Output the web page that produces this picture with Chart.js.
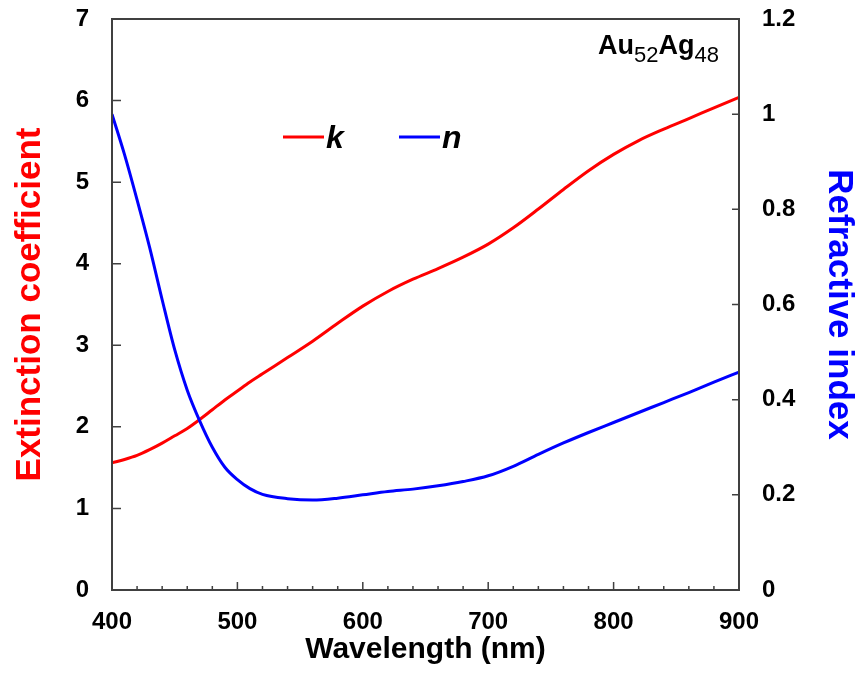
<!DOCTYPE html>
<html>
<head>
<meta charset="utf-8">
<script src="https://cdn.jsdelivr.net/npm/chart.js@4"></script>
<style>
  html, body { margin: 0; padding: 0; background: #fff; }
  #chart { display: block; }
</style>
</head>
<body>
<canvas id="chart" width="860" height="680"></canvas>
<script>
  "use strict";

  // Datos (Au52Ag48)
  const wavelengths = [400, 410, 420, 430, 440, 450, 460, 470, 480, 490, 500, 510, 520, 540, 560, 580,
    600, 620, 640, 660, 680, 700, 720, 740, 760, 780, 800, 820, 840, 860, 880, 900];
  const kValues = [1.56, 1.60, 1.65, 1.72, 1.80, 1.89, 1.98, 2.09, 2.21, 2.33, 2.44, 2.55, 2.65, 2.85, 3.05, 3.27,
    3.48, 3.66, 3.81, 3.94, 4.08, 4.24, 4.44, 4.67, 4.91, 5.14, 5.34, 5.51, 5.65, 5.78, 5.91, 6.04];
  const nValues = [1.00, 0.915, 0.82, 0.72, 0.61, 0.505, 0.42, 0.355, 0.30, 0.258, 0.232, 0.213, 0.201, 0.192,
    0.189, 0.193, 0.200, 0.207, 0.212, 0.219, 0.228, 0.240, 0.260, 0.285, 0.309, 0.331, 0.352, 0.373, 0.394,
    0.415, 0.437, 0.458];

  const xTicks = [400, 500, 600, 700, 800, 900];
  const xMinorTicks = [420, 440, 460, 480, 520, 540, 560, 580, 620, 640, 660, 680, 720, 740, 760, 780,
    820, 840, 860, 880];
  const kTicks = [0, 1, 2, 3, 4, 5, 6, 7];
  const nTicks = [0, 0.2, 0.4, 0.6, 0.8, 1, 1.2];

  const RED = "#ff0000";
  const BLUE = "#0000ff";
  const FRAME = "#404040";
  const FONT = "'Liberation Sans', Arial, sans-serif";

  const toPoints = (ys) => wavelengths.map((w, i) => ({x: w, y: ys[i]}));
  const setTicks = (list) => (scale) => {
    scale.ticks = list.map((v) => ({value: v}));
  };
  // tamaño fijo de cada eje, sin el relleno extra que Chart.js añade por las etiquetas
  const fixSize = (prop, px) => (scale) => {
    scale[prop] = px;
    scale.paddingTop = 0;
    scale.paddingBottom = 0;
    scale.paddingLeft = 0;
    scale.paddingRight = 0;
  };

  // Marco, marcas hacia dentro, leyenda y etiqueta de la muestra
  const decorations = {
    id: "decorations",
    afterDatasetsDraw(chart) {
      const {ctx, chartArea: a, scales} = chart;
      ctx.save();
      ctx.strokeStyle = FRAME;
      ctx.lineWidth = 1.5;
      ctx.beginPath();
      xTicks.forEach((v) => {
        const px = scales.x.getPixelForValue(v);
        ctx.moveTo(px, a.bottom);
        ctx.lineTo(px, a.bottom - 8);
      });
      xMinorTicks.forEach((v) => {
        const px = scales.x.getPixelForValue(v);
        ctx.moveTo(px, a.bottom);
        ctx.lineTo(px, a.bottom - 4);
      });
      kTicks.forEach((v) => {
        const py = scales.y.getPixelForValue(v);
        ctx.moveTo(a.left, py);
        ctx.lineTo(a.left + 9, py);
      });
      nTicks.forEach((v) => {
        const py = scales.y1.getPixelForValue(v);
        ctx.moveTo(a.right, py);
        ctx.lineTo(a.right - 7, py);
      });
      ctx.stroke();

      ctx.lineWidth = 2;
      ctx.strokeRect(a.left, a.top, a.width, a.height);

      // leyenda
      const entries = [
        {ds: chart.data.datasets[0], x: 283},
        {ds: chart.data.datasets[1], x: 399},
      ];
      ctx.textBaseline = "alphabetic";
      ctx.textAlign = "left";
      ctx.font = "italic bold 32px " + FONT;
      entries.forEach(({ds, x}) => {
        ctx.strokeStyle = ds.borderColor;
        ctx.lineWidth = 3;
        ctx.beginPath();
        ctx.moveTo(x, 137);
        ctx.lineTo(x + 41, 137);
        ctx.stroke();
        ctx.fillStyle = "#000";
        ctx.fillText(ds.label, x + 43, 148);
      });

      // Au52Ag48
      const parts = [
        {t: "Au", sub: false},
        {t: "52", sub: true},
        {t: "Ag", sub: false},
        {t: "48", sub: true},
      ];
      let tx = 598;
      parts.forEach((p) => {
        ctx.font = p.sub ? "22px " + FONT : "bold 27px " + FONT;
        ctx.fillText(p.t, tx, p.sub ? 62 : 54);
        tx += ctx.measureText(p.t).width;
      });
      ctx.restore();
    },
  };

  new Chart(document.getElementById("chart").getContext("2d"), {
    type: "line",
    data: {
      datasets: [
        {
          label: "k",
          data: toPoints(kValues),
          yAxisID: "y",
          borderColor: RED,
          borderWidth: 3,
          pointRadius: 0,
          cubicInterpolationMode: "monotone",
          order: 2,
        },
        {
          label: "n",
          data: toPoints(nValues),
          yAxisID: "y1",
          borderColor: BLUE,
          borderWidth: 3,
          pointRadius: 0,
          cubicInterpolationMode: "monotone",
          order: 1,
        },
      ],
    },
    options: {
      responsive: false,
      animation: false,
      layout: {padding: {top: 19, left: 0, right: 0, bottom: 0}},
      plugins: {legend: {display: false}, tooltip: {enabled: false}},
      scales: {
        x: {
          type: "linear",
          min: 400,
          max: 900,
          afterBuildTicks: setTicks(xTicks),
          afterFit: fixSize("height", 90),
          grid: {display: false, drawTicks: false},
          border: {display: false},
          ticks: {color: "#000", padding: 18, font: {family: FONT, size: 24, weight: "bold"}},
          title: {
            display: true,
            text: "Wavelength (nm)",
            color: "#000",
            padding: {top: 0, bottom: 12},
            font: {family: FONT, size: 30, weight: "bold"},
          },
        },
        y: {
          position: "left",
          min: 0,
          max: 7,
          afterBuildTicks: setTicks(kTicks),
          afterFit: fixSize("width", 112),
          grid: {display: false, drawTicks: false},
          border: {display: false},
          ticks: {color: "#000", padding: 23, font: {family: FONT, size: 24, weight: "bold"}},
          title: {
            display: true,
            text: "Extinction coefficient",
            color: RED,
            padding: {top: 9, bottom: 0},
            font: {family: FONT, size: 35, weight: "bold"},
          },
        },
        y1: {
          position: "right",
          min: 0,
          max: 1.2,
          afterBuildTicks: setTicks(nTicks),
          afterFit: fixSize("width", 121),
          grid: {display: false, drawTicks: false},
          border: {display: false},
          ticks: {
            color: "#000",
            padding: 23,
            font: {family: FONT, size: 24, weight: "bold"},
            callback: (v) => String(Math.round(v * 10) / 10),
          },
          title: {
            display: true,
            text: "Refractive index",
            color: BLUE,
            padding: {top: 0, bottom: 0},
            font: {family: FONT, size: 35, weight: "bold"},
          },
        },
      },
    },
    plugins: [decorations],
  });
</script>
</body>
</html>
